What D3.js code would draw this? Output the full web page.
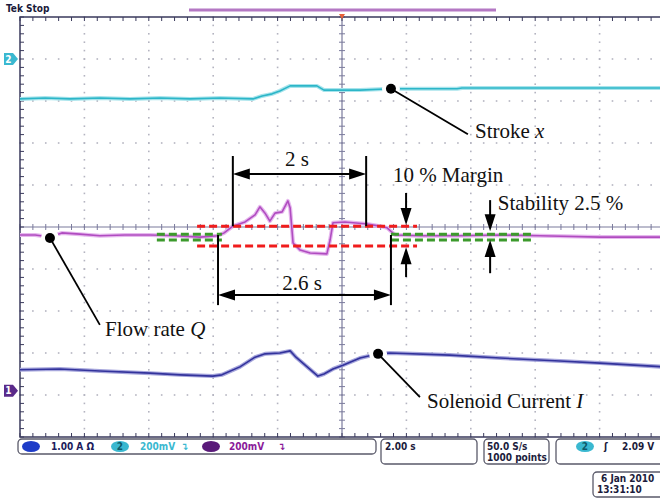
<!DOCTYPE html>
<html>
<head>
<meta charset="utf-8">
<script src="https://cdn.jsdelivr.net/npm/d3@7/dist/d3.min.js"></script>
<style>
  html, body { margin: 0; padding: 0; background: #fff; }
  svg { display: block; }
  .ann { font-family: "Liberation Serif", "Times New Roman", serif; font-size: 21px; fill: #111; }
  .ui { font-family: "DejaVu Sans Condensed", "DejaVu Sans", sans-serif; font-weight: bold; font-size: 10px; }
</style>
</head>
<body>
<div id="chart"></div>
<script>
// time in seconds (2 s/div, trigger at 0), values in screen divisions from centre
const strokeT = [-10, -9.22, -8.45, -7.52, -6.58, -5.65, -4.72, -3.79, -2.76, -2.48, -2.17, -1.93, -1.61, -1.15, -0.78, -0.56, 0, 0.56, 1.52, 2.73, 3.57, 3.73, 6.77, 10];
const strokeV = [3.05, 3.07, 3.05, 3.07, 3.05, 3.07, 3.05, 3.07, 3.05, 3.12, 3.17, 3.24, 3.36, 3.36, 3.36, 3.26, 3.26, 3.26, 3.29, 3.29, 3.29, 3.31, 3.31, 3.31];

const flowT = [-10, -9.53, -9.07, -8.70, -8.14, -7.52, -6.74, -5.96, -5.19, -4.41, -3.85, -3.66, -3.39, -3.01, -2.70, -2.55, -2.39, -2.24, -2.08, -1.86, -1.68, -1.61, -1.52, -1.30, -0.99, -0.47, -0.37, -0.28, 0.09, 0.78, 1.18, 1.40, 1.65, 2.42, 3.66, 4.91, 6.15, 8.01, 10];
const flowV = [-0.19, -0.19, -0.24, -0.14, -0.17, -0.21, -0.19, -0.19, -0.21, -0.24, -0.21, -0.14, 0.02, 0.12, 0.29, 0.48, 0.33, 0.14, 0.33, 0.36, 0.62, 0.45, -0.38, -0.55, -0.62, -0.64, -0.31, 0.10, 0.12, 0.07, 0.02, -0.02, -0.19, -0.21, -0.21, -0.19, -0.21, -0.24, -0.24];

const currentT = [-10, -8.76, -7.52, -5.96, -5.03, -4.01, -3.73, -3.17, -2.70, -2.39, -1.93, -1.61, -1.43, -0.75, -0.56, -0.28, 0.03, 0.56, 1.12, 1.49, 3.35, 4.91, 6.77, 8.01, 10];
const currentV = [-3.40, -3.38, -3.43, -3.48, -3.52, -3.55, -3.52, -3.33, -3.10, -3.02, -3.00, -2.95, -3.10, -3.55, -3.50, -3.38, -3.29, -3.12, -3.02, -3.00, -3.05, -3.12, -3.19, -3.24, -3.33];

// annotation geometry (same units: s, div)
const marginBand = [0.02, -0.45];      // red 10 % band
const stabilityBand = [-0.17, -0.31];  // green 2.5 % band
const redSpan = [-4.50, 2.33];
const greenSpans = [[-5.75, -3.73], [1.52, 5.90]];
const span2s = { t0: -3.39, t1: 0.75, top: 1.69, bottom: 0.02, arrow: 1.26, label: "2 s", lt: -1.40, lv: 1.45 };
const span26s = { t0: -3.85, t1: 1.52, top: -0.19, bottom: -1.86, arrow: -1.62, label: "2.6 s", lt: -1.24, lv: -1.50 };
const pinchArrows = [
  { t: 1.99, downFrom: 0.81, downTo: 0.05, upFrom: -1.19, upTo: -0.48 },
  { t: 4.60, downFrom: 0.64, downTo: -0.10, upFrom: -1.10, upTo: -0.31 }
];
const textLabels = [
  { text: "10 % Margin", t: 1.58, v: 1.07 },
  { text: "Stability 2.5 %", t: 4.84, v: 0.40 }
];
const callouts = [
  { dot: [1.52, 3.29], end: [3.91, 2.21], t: 4.13, v: 2.12, name: "Stroke ", sym: "x" },
  { dot: [-9.07, -0.26], end: [-7.52, -2.33], t: -7.36, v: -2.60, name: "Flow rate ", sym: "Q" },
  { dot: [1.12, -3.02], end: [2.42, -4.05], t: 2.64, v: -4.31, name: "Solenoid Current ", sym: "I" }
];

const W = 660, H = 499;
const svg = d3.select("#chart").append("svg").attr("width", W).attr("height", H);
svg.append("rect").attr("width", W).attr("height", H).attr("fill", "#fff");

const x = d3.scaleLinear().domain([-10, 10]).range([20, 664]);
const y = d3.scaleLinear().domain([-5, 5]).range([437, 17]);

const frameCol = "#3a3a5c", centreCol = "#7a7a9c", dotCol = "#b4b4c0";

// graticule dots
const g = svg.append("g");
const majorT = d3.range(-8, 9, 2).filter(d => d !== 0);
const majorV = d3.range(-4, 5, 1).filter(d => d !== 0);
majorT.forEach(t => {
  g.selectAll(null).data(d3.range(-5, 5.01, 0.2)).enter().append("rect")
    .attr("x", x(t) - 0.8).attr("y", d => y(d) - 0.8).attr("width", 1.6).attr("height", 1.6).attr("fill", dotCol);
});
majorV.forEach(v => {
  g.selectAll(null).data(d3.range(-10, 10.01, 0.4)).enter().append("rect")
    .attr("x", d => x(d) - 0.8).attr("y", y(v) - 0.8).attr("width", 1.6).attr("height", 1.6).attr("fill", dotCol);
});

// centre cross with ticks
g.append("line").attr("x1", x(-10)).attr("x2", x(10)).attr("y1", y(0)).attr("y2", y(0)).attr("stroke", centreCol).attr("stroke-width", 1.2);
g.append("line").attr("x1", x(0)).attr("x2", x(0)).attr("y1", y(-5)).attr("y2", y(5)).attr("stroke", centreCol).attr("stroke-width", 1.2);
g.selectAll(null).data(d3.range(-10, 10.01, 0.4)).enter().append("line")
  .attr("x1", d => x(d)).attr("x2", d => x(d)).attr("y1", y(0) - 3).attr("y2", y(0) + 3).attr("stroke", centreCol);
g.selectAll(null).data(d3.range(-5, 5.01, 0.2)).enter().append("line")
  .attr("x1", x(0) - 3).attr("x2", x(0) + 3).attr("y1", d => y(d)).attr("y2", d => y(d)).attr("stroke", centreCol);

// frame with ticks
g.append("path").attr("d", `M${x(10)},${y(5)}H${x(-10)}V${y(-5)}H${x(10)}`)
  .attr("fill", "none").attr("stroke", frameCol).attr("stroke-width", 1.5);
g.selectAll(null).data(d3.range(-10, 10.01, 0.4)).enter().append("path")
  .attr("d", d => `M${x(d)},${y(5)}v4M${x(d)},${y(-5)}v-4`).attr("stroke", frameCol);
g.selectAll(null).data(d3.range(-5, 5.01, 0.2)).enter().append("line")
  .attr("x1", x(-10)).attr("x2", x(-10) + 4).attr("y1", d => y(d)).attr("y2", d => y(d)).attr("stroke", frameCol);

// header
svg.append("text").attr("class", "ui").attr("x", 6).attr("y", 12).attr("fill", "#1a1a3a").text("Tek");
svg.append("text").attr("class", "ui").attr("x", 26).attr("y", 12).attr("fill", "#1a1a3a").text("Stop");
svg.append("line").attr("x1", 189).attr("x2", 496).attr("y1", 10).attr("y2", 10).attr("stroke", "#b478c4").attr("stroke-width", 3);
svg.append("path").attr("d", `M${x(0) - 3},${y(5) - 3}h6l-3,5z`).attr("fill", "#e8603a");

// channel markers
function marker(v, fill, label) {
  const yy = y(v);
  svg.append("path").attr("d", `M4,${yy - 6}h9l5,6l-5,6h-9z`).attr("fill", fill);
  svg.append("text").attr("class", "ui").attr("x", 8.5).attr("y", yy + 3.5).attr("text-anchor", "middle")
    .attr("font-size", 9).attr("fill", "#fff").text(label);
}
marker(4, "#3ab8d0", "2");
marker(-3.9, "#5a2a8a", "1");

// traces
const line = d3.line().x(d => x(d[0])).y(d => y(d[1]));
function trace(ts, vs, core, halo) {
  const pts = ts.map((t, i) => [t, vs[i]]);
  svg.append("path").attr("d", line(pts)).attr("fill", "none").attr("stroke", halo).attr("stroke-width", 4).attr("stroke-linejoin", "round");
  svg.append("path").attr("d", line(pts)).attr("fill", "none").attr("stroke", core).attr("stroke-width", 1.6).attr("stroke-linejoin", "round");
}
trace(strokeT, strokeV, "#2cb6c8", "#a8e4ec");
trace(flowT, flowV, "#b04cc0", "#e6b8ee");
trace(currentT, currentV, "#33339c", "#a6a6dc");

// bands
const ann = svg.append("g");
marginBand.forEach(v => {
  ann.append("line").attr("x1", x(redSpan[0])).attr("x2", x(redSpan[1])).attr("y1", y(v)).attr("y2", y(v))
    .attr("stroke", "#f01c1c").attr("stroke-width", 3).attr("stroke-dasharray", "8,4");
});
greenSpans.forEach(s => stabilityBand.forEach(v => {
  ann.append("line").attr("x1", x(s[0])).attr("x2", x(s[1])).attr("y1", y(v)).attr("y2", y(v))
    .attr("stroke", "#3c9a2c").attr("stroke-width", 3).attr("stroke-dasharray", "8,4");
}));

// arrow helpers
function head(px, py, dx, dy, len, hw) {
  const bx = px - dx * len, by = py - dy * len;
  const nx = -dy * hw, ny = dx * hw;
  ann.append("path").attr("d", `M${px},${py}L${bx + nx},${by + ny}L${bx - nx},${by - ny}Z`).attr("fill", "#000");
}
function vArrow(t, from, to) {
  const x0 = x(t), y0 = y(from), y1 = y(to), dir = Math.sign(y1 - y0);
  ann.append("line").attr("x1", x0).attr("x2", x0).attr("y1", y0).attr("y2", y1 - dir * 10).attr("stroke", "#000").attr("stroke-width", 2);
  head(x0, y1, 0, dir, 17, 5.5);
}
function bracket(s) {
  [s.t0, s.t1].forEach(t => {
    ann.append("line").attr("x1", x(t)).attr("x2", x(t)).attr("y1", y(s.top)).attr("y2", y(s.bottom)).attr("stroke", "#000").attr("stroke-width", 2);
  });
  const yy = y(s.arrow);
  ann.append("line").attr("x1", x(s.t0) + 10).attr("x2", x(s.t1) - 10).attr("y1", yy).attr("y2", yy).attr("stroke", "#000").attr("stroke-width", 2);
  head(x(s.t0), yy, -1, 0, 17, 5.5);
  head(x(s.t1), yy, 1, 0, 17, 5.5);
  ann.append("text").attr("class", "ann").attr("x", x(s.lt)).attr("y", y(s.lv)).attr("text-anchor", "middle").text(s.label);
}
bracket(span2s);
bracket(span26s);
pinchArrows.forEach(a => { vArrow(a.t, a.downFrom, a.downTo); vArrow(a.t, a.upFrom, a.upTo); });
textLabels.forEach(l => ann.append("text").attr("class", "ann").attr("x", x(l.t)).attr("y", y(l.v)).text(l.text));

// callouts
callouts.forEach(c => {
  ann.append("circle").attr("cx", x(c.dot[0])).attr("cy", y(c.dot[1])).attr("r", 9).attr("fill", "#fff");
  ann.append("line").attr("x1", x(c.dot[0])).attr("y1", y(c.dot[1])).attr("x2", x(c.end[0])).attr("y2", y(c.end[1]))
    .attr("stroke", "#000").attr("stroke-width", 1.8);
  ann.append("circle").attr("cx", x(c.dot[0])).attr("cy", y(c.dot[1])).attr("r", 5).attr("fill", "#000");
  const tx = ann.append("text").attr("class", "ann").attr("x", x(c.t)).attr("y", y(c.v));
  tx.append("tspan").text(c.name);
  tx.append("tspan").attr("font-style", "italic").text(c.sym);
});

// status readouts
const boxCol = "#5a5a6a";
function box(x0, y0, w, h) {
  svg.append("rect").attr("x", x0).attr("y", y0).attr("width", w).attr("height", h).attr("rx", 4)
    .attr("fill", "#fff").attr("stroke", boxCol).attr("stroke-width", 1.3);
}
function pill(cx, cy, fill, label, lcol) {
  svg.append("ellipse").attr("cx", cx).attr("cy", cy).attr("rx", 9).attr("ry", 5.5).attr("fill", fill);
  if (label) svg.append("text").attr("class", "ui").attr("x", cx).attr("y", cy + 3.5).attr("text-anchor", "middle").attr("fill", lcol).text(label);
}
function uiText(tx, ty, s, col) {
  svg.append("text").attr("class", "ui").attr("x", tx).attr("y", ty).attr("fill", col).text(s);
}
box(18, 439, 358, 15);
pill(31, 446.5, "#1e3cc8", "1", "#1e3cc8");
uiText(51, 450, "1.00 A \u03A9", "#1c1c5c");
pill(120, 446.5, "#3ab8d0", "2", "#0e5a6a");
uiText(140, 450, "200mV", "#3ab8d0");
uiText(181, 450, "\u21B4", "#3ab8d0");
pill(211, 446.5, "#5a1a7a", "", "");
uiText(229, 450, "200mV", "#8a1a9a");
uiText(278, 450, "\u21B4", "#8a1a9a");

box(381, 439, 96, 25);
uiText(385, 450, "2.00 s", "#1c1c3c");
box(484, 439, 65, 25);
uiText(487, 450, "50.0 S/s", "#1c1c3c");
uiText(487, 461, "1000 points", "#1c1c3c");
box(556, 439, 120, 25);
pill(585, 446.5, "#3ab8d0", "2", "#0e5a6a");
uiText(604, 450, "\u0283", "#1c1c3c");
uiText(622, 450, "2.09 V", "#1c1c3c");
box(593, 472, 80, 25);
uiText(601, 482, "6 Jan  2010", "#1c1c3c");
uiText(597, 493, "13:31:10", "#1c1c3c");
</script>
</body>
</html>
